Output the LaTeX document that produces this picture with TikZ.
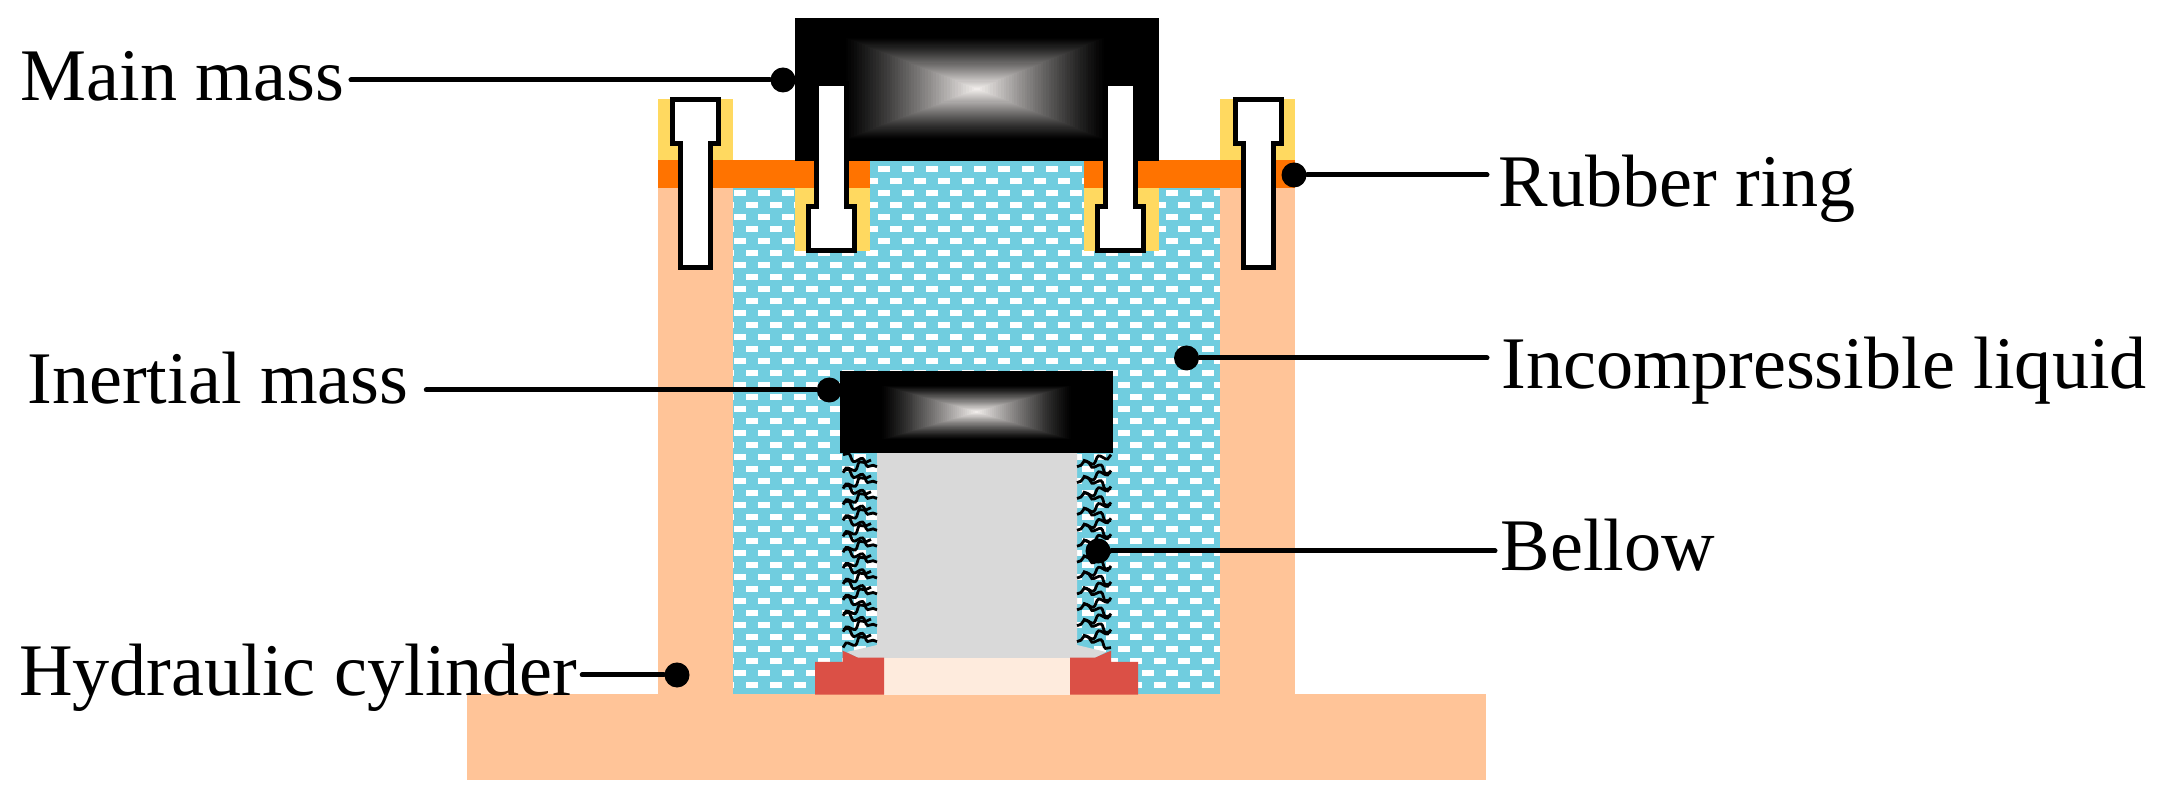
\documentclass[tikz,border=0pt]{standalone}
\usepackage{fontspec}
\setmainfont{Liberation Serif}
\usepackage{xcolor}
\usetikzlibrary{positioning,calc,decorations.pathmorphing}
\definecolor{liquid}{HTML}{70CDDF}
\definecolor{cylinder}{HTML}{FFC498}
\definecolor{rubber}{HTML}{FF7300}
\definecolor{seal}{HTML}{FFD960}
\definecolor{clamp}{HTML}{DB5046}
\definecolor{cream}{HTML}{FEEBDD}
\definecolor{core}{HTML}{D9D9D9}
\definecolor{glow}{HTML}{F0ECEA}
% nested rectangles: {x0}{y0}{x1}{y1}{cx}{cy}
\newcommand{\massglow}[6]{%
  \foreach \s in {0,...,48} {
    \pgfmathsetmacro{\f}{\s/49}
    \pgfmathsetmacro{\pc}{(\s/48)^1.2*100}
    \fill[glow!\pc!black] ({#1+(#5-#1)*\f},{#2+(#6-#2)*\f}) rectangle ({#3+(#5-#3)*\f},{#4+(#6-#4)*\f});
  }
}
\begin{document}
\begin{tikzpicture}[
    x=0.01cm, y=-0.01cm,
    dot/.style={circle, fill=black, inner sep=0pt, minimum size=2.5mm},
    partlabel/.style={anchor=base west, inner sep=0pt, font=\fontsize{21.1}{24}\selectfont},
    leader/.style={line width=0.5mm, line cap=round},
    bolt/.style={draw=black, fill=white, line width=0.5mm, line join=miter},
    wave/.style={line width=0.28mm, decorate, decoration={snake, amplitude=0.3mm, segment length=1.5mm}}
]
    \useasboundingbox (0,0) rectangle (2173,798);

    % Liquid with its white dashes
    \fill[liquid] (733,161) rectangle (1220,695);
    \begin{scope}
        \clip (733,161) rectangle (1220,695);
        \foreach \r in {0,...,43} {
            \foreach \k in {0,...,21} {
                \pgfmathsetmacro{\dx}{709.7+24*\k+12*mod(\r,2)}
                \pgfmathsetmacro{\dy}{169.3+12*\r}
                \fill[white] (\dx,\dy-3) rectangle (\dx+12,\dy+3);
            }
        }
    \end{scope}

    % Hydraulic cylinder
    \fill[cylinder] (467,694) rectangle (1486,780);
    \fill[cylinder] (658,187) rectangle (733,695);
    \fill[cylinder] (1220,187) rectangle (1295,695);

    % Seals and rubber ring
    \fill[seal] (658,99) rectangle (733,161);
    \fill[seal] (1220,99) rectangle (1295,161);
    \fill[seal] (795,187) rectangle (870,251);
    \fill[seal] (1084,187) rectangle (1159,251);
    \fill[rubber] (658,160) rectangle (814,187.7);
    \fill[rubber] (849,160) rectangle (870,187.7);
    \fill[rubber] (1084,160) rectangle (1103,187.7);
    \fill[rubber] (1138,160) rectangle (1295,187.7);

    % Bellow
    \fill[core] (877,452) -- (1077,452) -- (1077,645) -- (1106,652) -- (1095,658)
        -- (858,658) -- (847,652) -- (877,645) -- cycle;
    \foreach \i in {0,...,11} {
        \pgfmathsetmacro{\wy}{15.9*\i}
        \draw[wave] (843,454.7+\wy) -- (877,466.7+\wy);
        \draw[wave] (843,472.7+\wy) -- (871,460+\wy);
        \draw[wave] (1111,454.7+\wy) -- (1077,466.7+\wy);
        \draw[wave] (1111,472.7+\wy) -- (1083,460+\wy);
    }
    \fill[cream] (884,657.7) rectangle (1070,694.7);
    \fill[clamp] (815,694.7) -- (815,662) -- (842.7,662) -- (842.7,650.7) -- (858,657.7)
        -- (884,657.7) -- (884,694.7) -- cycle;
    \fill[clamp] (1138,694.7) -- (1138,662) -- (1111,662) -- (1111,650.7) -- (1095,657.7)
        -- (1070,657.7) -- (1070,694.7) -- cycle;

    % Masses
    \fill[black] (795,18) rectangle (1159,161);
    \massglow{843}{37}{1107}{140}{977}{89}
    \fill[black] (840,371) rectangle (1113,452.7);
    \massglow{880}{385}{1073}{440}{976.5}{412}

    % Bolts
    \foreach \c in {695.5,1258} {
        \draw[bolt] (\c-23,99.5) -- (\c+23,99.5) -- (\c+23,143.2) -- (\c+15,143.2) -- (\c+15,267.5)
            -- (\c-15,267.5) -- (\c-15,143.2) -- (\c-23,143.2) -- cycle;
    }
    \foreach \c in {831.5,1120.5} {
        \draw[bolt] (\c-15,83.5) -- (\c+15,83.5) -- (\c+15,206.5) -- (\c+23,206.5) -- (\c+23,250.5)
            -- (\c-23,250.5) -- (\c-23,206.5) -- (\c-15,206.5) -- cycle;
    }

    % Labels and their dots
    \node[partlabel] (mainlabel) at (20,100.7) {Main mass};
    \node[partlabel] (inertiallabel) at (26.7,404) {Inertial mass};
    \node[partlabel] (cylinderlabel) at (18.4,695.7) {Hydraulic cylinder};
    \node[partlabel] (ringlabel) at (1498,206.7) {Rubber ring};
    \node[partlabel] (liquidlabel) at (1501,388.3) {Incompressible liquid};
    \node[partlabel] (bellowlabel) at (1500,570.7) {Bellow};

    \node[dot] (maindot) at (783,80) {};
    \node[dot] (inertialdot) at (829.3,390) {};
    \node[dot] (cylinderdot) at (677,675) {};
    \node[dot] (ringdot) at (1294,175) {};
    \node[dot] (liquiddot) at (1186.5,358) {};
    \node[dot] (bellowdot) at (1098,551) {};

    % Leaders
    \draw[leader, shorten >=0.6mm] (maindot) -- (maindot -| mainlabel.east);
    \draw[leader, shorten >=1.7mm] (inertialdot) -- (inertialdot -| inertiallabel.east);
    \draw[leader, shorten >=0.4mm] (cylinderdot) -- (cylinderdot -| cylinderlabel.east);
    \draw[leader, shorten >=1.1mm] (ringdot) -- (ringdot -| ringlabel.west);
    \draw[leader, shorten >=1.4mm] (liquiddot) -- (liquiddot -| liquidlabel.west);
    \draw[leader, shorten >=0.5mm] (bellowdot) -- (bellowdot -| bellowlabel.west);
\end{tikzpicture}
\end{document}
